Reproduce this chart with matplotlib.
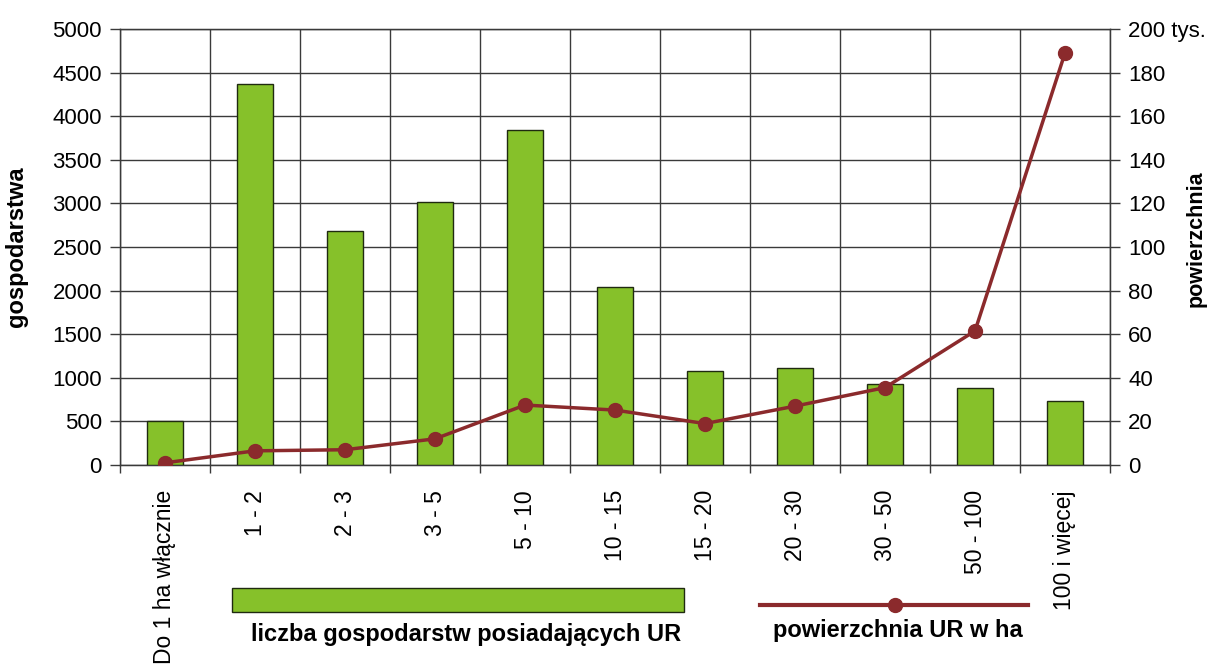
import numpy as np
import matplotlib.pyplot as plt
from matplotlib.patches import Rectangle
from matplotlib.lines import Line2D

plt.rcParams['font.family'] = ['Liberation Sans', 'DejaVu Sans']

categories = ["Do 1 ha włącznie", "1 - 2", "2 - 3", "3 - 5", "5 - 10", "10 - 15",
              "15 - 20", "20 - 30", "30 - 50", "50 - 100", "100 i więcej"]
gospodarstwa = [505, 4370, 2685, 3015, 3840, 2040, 1080, 1115, 925, 880, 735]
powierzchnia = [1, 6.5, 7, 12, 27.5, 25.2, 19, 27, 35.5, 61.5, 189]  # tys. ha
left_ticks = [0, 500, 1000, 1500, 2000, 2500, 3000, 3500, 4000, 4500, 5000]
right_ticks = [0, 20, 40, 60, 80, 100, 120, 140, 160, 180, 200]
right_labels = ["0", "20", "40", "60", "80", "100", "120", "140", "160", "180", "200 tys."]

GREEN = "#86c12a"
RED = "#8b2a2c"
GRID = "#3a3a3a"

fig = plt.figure(figsize=(12.08, 6.66), dpi=100)
ax = fig.add_axes([120 / 1208, 1 - 465 / 666, 990 / 1208, 436 / 666])
x = np.arange(len(categories))

ax.bar(x, gospodarstwa, width=0.4, color=GREEN, edgecolor="#1f2a10", linewidth=1, zorder=3)
ax.set_xlim(-0.5, len(categories) - 0.5)
ax.set_ylim(0, 5000)
ax.set_yticks(left_ticks)
ax.set_xticks(x)
ax.set_xticklabels(categories, rotation=90, fontsize=16.5)
ax.set_xticks(np.arange(-0.5, len(categories)), minor=True)
ax.tick_params(axis="x", which="major", length=0, pad=18)
ax.tick_params(axis="x", which="minor", length=6, width=1, color=GRID)
ax.tick_params(axis="y", length=7, width=1, color=GRID, labelsize=16, pad=6)
ax.grid(axis="y", color=GRID, linewidth=1, zorder=0)
ax.grid(axis="x", which="minor", color=GRID, linewidth=1, zorder=0)
for s in ax.spines.values():
    s.set_color(GRID)
    s.set_linewidth(1)
ax.set_ylabel("gospodarstwa", fontsize=17, fontweight="bold")
ax.yaxis.set_label_coords(-0.093, 0.5)

ax2 = ax.twinx()
ax2.plot(x, powierzchnia, color=RED, linewidth=2.5, marker="o", markersize=10, zorder=4)
ax2.set_ylim(0, 200)
ax2.set_yticks(right_ticks)
ax2.set_yticklabels(right_labels)
ax2.tick_params(axis="y", length=7, width=1, color=GRID, labelsize=16, pad=6)
for s in ax2.spines.values():
    s.set_color(GRID)
ax2.set_ylabel("powierzchnia", fontsize=15.5, fontweight="bold", rotation=90,
               ha="center", va="center")
ax2.yaxis.set_label_coords(1.087, 0.52)

# legend drawn below the plot
fig.add_artist(Rectangle((232 / 1208, 1 - 612 / 666), 452 / 1208, 24 / 666,
                         facecolor=GREEN, edgecolor="#1f2a10", linewidth=1,
                         transform=fig.transFigure))
fig.text(466 / 1208, 1 - 635 / 666, "liczba gospodarstw posiadających UR",
         ha="center", va="center", fontsize=17, fontweight="bold")
fig.add_artist(Line2D([760 / 1208, 1028 / 1208], [1 - 605 / 666] * 2, color=RED,
                      linewidth=3, transform=fig.transFigure))
fig.add_artist(Line2D([895 / 1208], [1 - 605 / 666], color=RED, marker="o",
                      markersize=10, transform=fig.transFigure))
fig.text(898 / 1208, 1 - 631 / 666, "powierzchnia UR w ha",
         ha="center", va="center", fontsize=17, fontweight="bold")

fig.savefig("out.png", dpi=100)
